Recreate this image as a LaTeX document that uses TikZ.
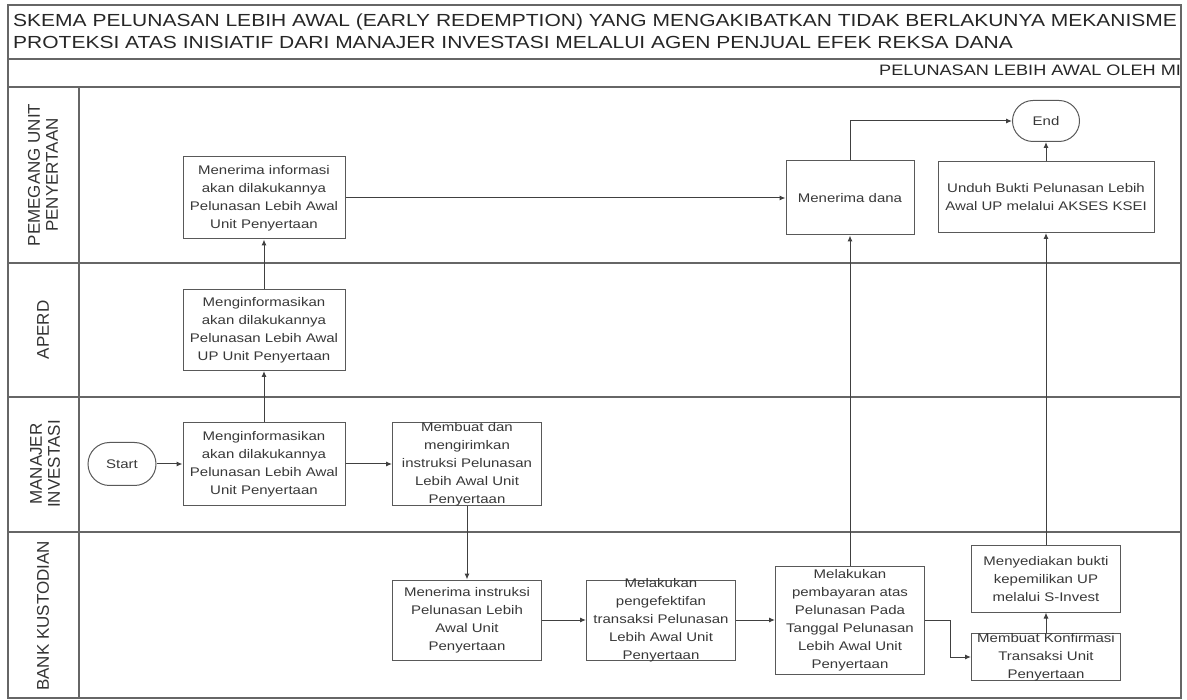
\documentclass[tikz,border=0pt]{standalone}
\usepackage{fontspec}
\setmainfont{Liberation Sans}
\newfontfamily\wf[FakeStretch=1.2]{Liberation Sans}
\usetikzlibrary{arrows.meta,shapes.misc}
\begin{document}
\begin{tikzpicture}[x=1pt,y=-1pt,
  frame/.style={draw=black!60,line width=1.4pt},
  boxshape/.style={draw=black!65,line width=1pt,rectangle,inner sep=0pt},
  term/.style={draw=black!65,line width=1pt,rounded rectangle,inner sep=0pt},
  txt/.style={font=\wf\fontsize{12.5}{18}\selectfont,text=black!78,align=center,inner sep=0pt},
  lane/.style={font=\fontsize{17}{18}\selectfont,text=black!80,align=center,rotate=90,inner sep=0pt},
  ttl/.style={font=\wf\fontsize{17.5}{22}\selectfont,text=black!85,inner sep=0pt,anchor=base west},
  conn/.style={draw=black!75,line width=1pt,-{Latex[length=6pt,width=5pt]}},
  plain/.style={draw=black!75,line width=1pt}]
\useasboundingbox (0,0) rectangle (1187,700);
% frame
\draw[frame] (8,5) rectangle (1181,698);
\draw[frame] (8,59) -- (1181,59);
\draw[frame] (8,87) -- (1181,87);
\draw[frame] (79,87) -- (79,698);
\draw[frame] (8,263) -- (1181,263);
\draw[frame] (8,397) -- (1181,397);
\draw[frame] (8,532) -- (1181,532);
% title
\node[ttl] (t1) at (13,27) {SKEMA PELUNASAN LEBIH AWAL (EARLY REDEMPTION) YANG MENGAKIBATKAN TIDAK BERLAKUNYA MEKANISME};
\node[ttl] (t2) at (13,49) {PROTEKSI ATAS INISIATIF DARI MANAJER INVESTASI MELALUI AGEN PENJUAL EFEK REKSA DANA};
\begin{scope}
\clip (8,60) rectangle (1180,86);
\node[ttl,font=\wf\fontsize{15.1}{18}\selectfont] (hd) at (879,76) {PELUNASAN LEBIH AWAL OLEH MI};
\end{scope}
% lane labels
\node[lane] (l1) at (43,175) {PEMEGANG UNIT\\PENYERTAAN};
\node[lane] (l2) at (43,330) {APERD};
\node[lane] (l3) at (45,464) {MANAJER\\INVESTASI};
\node[lane] (l4) at (43,616) {BANK KUSTODIAN};
% boxes
\node[boxshape,minimum width=162,minimum height=82] (A) at (264,198) {};
\node[txt] at (A.center) {Menerima informasi\\akan dilakukannya\\Pelunasan Lebih Awal\\Unit Penyertaan};
\node[boxshape,minimum width=162,minimum height=81] (B) at (264,330) {};
\node[txt] at (B.center) {Menginformasikan\\akan dilakukannya\\Pelunasan Lebih Awal\\UP Unit Penyertaan};
\node[boxshape,minimum width=162,minimum height=83] (C) at (264,464) {};
\node[txt] at (C.center) {Menginformasikan\\akan dilakukannya\\Pelunasan Lebih Awal\\Unit Penyertaan};
\node[boxshape,minimum width=149,minimum height=83] (D) at (467,464) {};
\node[txt] at (D.center) {Membuat dan\\mengirimkan\\instruksi Pelunasan\\Lebih Awal Unit\\Penyertaan};
\node[boxshape,minimum width=149,minimum height=80] (E) at (467,620) {};
\node[txt] at (E.center) {Menerima instruksi\\Pelunasan Lebih\\Awal Unit\\Penyertaan};
\node[boxshape,minimum width=149,minimum height=80] (F) at (661,620) {};
\node[txt] at (F.center) {Melakukan\\pengefektifan\\transaksi Pelunasan\\Lebih Awal Unit\\Penyertaan};
\node[boxshape,minimum width=149,minimum height=108] (G) at (850,620) {};
\node[txt] at (G.center) {Melakukan\\pembayaran atas\\Pelunasan Pada\\Tanggal Pelunasan\\Lebih Awal Unit\\Penyertaan};
\node[boxshape,minimum width=149,minimum height=47] (H) at (1046,657) {};
\node[txt] at (H.center) {Membuat Konfirmasi\\Transaksi Unit\\Penyertaan};
\node[boxshape,minimum width=149,minimum height=66] (I) at (1046,579) {};
\node[txt] at (I.center) {Menyediakan bukti\\kepemilikan UP\\melalui S-Invest};
\node[boxshape,minimum width=128,minimum height=74] (J) at (850,198) {};
\node[txt] at (J.center) {Menerima dana};
\node[boxshape,minimum width=216,minimum height=71] (K) at (1046,197) {};
\node[txt] at (K.center) {Unduh Bukti Pelunasan Lebih\\Awal UP melalui AKSES KSEI};
\node[term,minimum width=68,minimum height=43] (S) at (122,464) {};
\node[txt] at (S.center) {Start};
\node[term,minimum width=67,minimum height=41] (End) at (1046,121) {};
\node[txt] at (End.center) {End};
% connectors
\draw[conn] (S.east) -- (C.west);
\draw[conn] (C.north) -- (B.south);
\draw[conn] (B.north) -- (A.south);
\draw[conn] (C.east) -- (D.west);
\draw[conn] (D.south) -- (E.north);
\draw[conn] (E.east) -- (F.west);
\draw[conn] (F.east) -- (G.west);
\draw[conn] (G.north) -- (J.south);
\draw[conn] (G.east) -- ++(25,0) |- (H.west);
\draw[conn] (H.north) -- (I.south);
\draw[conn] (I.north) -- (K.south);
\draw[conn] (K.north) -- (End.south);
\draw[conn] (J.north) |- (End.west);
\draw[conn] (A.east) -- (J.west);
\end{tikzpicture}
\end{document}
